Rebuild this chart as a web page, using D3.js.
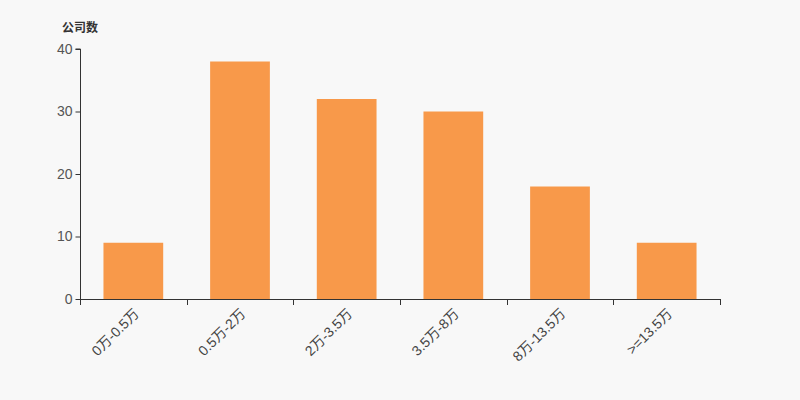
<!DOCTYPE html>
<html>
<head>
<meta charset="utf-8">
<script src="https://cdn.jsdelivr.net/npm/d3@7"></script>
<style>
  body { margin: 0; background: #f8f8f8; }
  svg { display: block; font-family: "Liberation Sans", "Noto Sans CJK SC", sans-serif; }
  .axis path, .axis line { stroke: #333; }
</style>
</head>
<body>
<div id="chart"></div>
<script>
const categories = ['0万-0.5万', '0.5万-2万', '2万-3.5万', '3.5万-8万', '8万-13.5万', '>=13.5万']
const values = [9, 38, 32, 30, 18, 9]
const yTicks = [0, 10, 20, 30, 40]

const width = 800
const height = 400
const margin = { left: 80, right: 80, top: 49, bottom: 101 }

const svg = d3.select('#chart').append('svg')
  .attr('width', width)
  .attr('height', height)

svg.append('rect')
  .attr('width', width)
  .attr('height', height)
  .attr('fill', '#f8f8f8')

const x = d3.scaleBand()
  .domain(categories)
  .range([margin.left, width - margin.right])
  .paddingInner(0.44)
  .paddingOuter(0.22)

const xBand = d3.scaleBand()
  .domain(categories)
  .range([margin.left, width - margin.right])

const y = d3.scaleLinear()
  .domain([0, 40])
  .range([height - margin.bottom, margin.top])

// bars
svg.append('g').selectAll('rect')
  .data(values)
  .enter().append('rect')
  .attr('x', (d, i) => x(categories[i]))
  .attr('y', d => y(d))
  .attr('width', x.bandwidth())
  .attr('height', d => y(0) - y(d))
  .attr('fill', '#f8994a')

// x axis, ticks on band edges
const xAxis = svg.append('g')
  .attr('class', 'axis')
  .attr('transform', `translate(0,${y(0)})`)

xAxis.append('line')
  .attr('x1', margin.left).attr('x2', width - margin.right)
  .attr('y1', 0.5).attr('y2', 0.5)
  .attr('stroke', '#333')

const edges = categories.map(c => xBand(c)).concat([width - margin.right])
xAxis.selectAll('.edge')
  .data(edges)
  .enter().append('line')
  .attr('class', 'edge')
  .attr('x1', d => Math.round(d) + 0.5).attr('x2', d => Math.round(d) + 0.5)
  .attr('y1', 0).attr('y2', 6)
  .attr('stroke', '#333')

xAxis.selectAll('text')
  .data(categories)
  .enter().append('text')
  .attr('transform', d => `translate(${xBand(d) + xBand.bandwidth() / 2 + 3},${12}) rotate(-45)`)
  .attr('text-anchor', 'end')
  .attr('dy', '0.35em')
  .attr('font-size', 14)
  .attr('fill', '#444')
  .text(d => d)

// y axis
const yAxis = svg.append('g')
  .attr('class', 'axis')
  .attr('transform', `translate(${margin.left + 0.5},0)`)
  .call(d3.axisLeft(y).tickValues(yTicks).tickSize(5).tickPadding(3))

yAxis.select('.domain').attr('d', `M-5,${y(40)}H0V${y(0)}`)
yAxis.selectAll('text')
  .attr('font-size', 14)
  .attr('font-family', '"Liberation Sans", sans-serif')
  .attr('fill', '#555')

svg.append('text')
  .attr('x', 62)
  .attr('y', 32)
  .attr('font-size', 12)
  .attr('font-weight', 'bold')
  .attr('font-family', '"Noto Sans CJK SC", sans-serif')
  .attr('fill', '#333')
  .text('公司数')
</script>
</body>
</html>
